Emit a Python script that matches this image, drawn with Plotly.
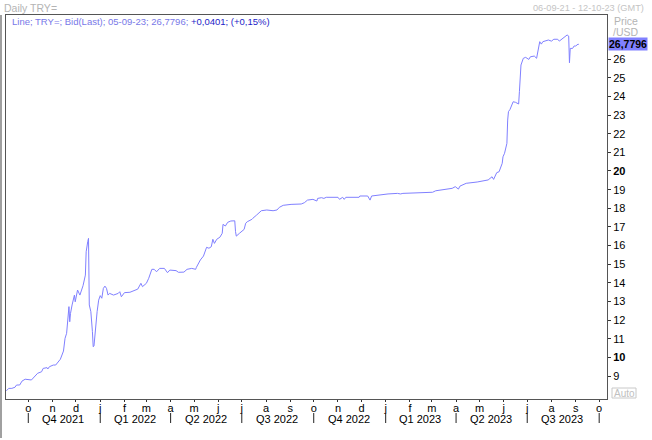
import plotly.graph_objects as go

# ---------------- data ----------------
dates = [
    "2021-09-03", "2021-09-06", "2021-09-10", "2021-09-14", "2021-09-16", "2021-09-20",
    "2021-09-23", "2021-09-27", "2021-10-05", "2021-10-07", "2021-10-11", "2021-10-13",
    "2021-10-18", "2021-10-20", "2021-10-25", "2021-10-26", "2021-10-28", "2021-11-02",
    "2021-11-05", "2021-11-08", "2021-11-11", "2021-11-15", "2021-11-17", "2021-11-19",
    "2021-11-22", "2021-11-23", "2021-11-24", "2021-11-26", "2021-11-29", "2021-11-30",
    "2021-12-02", "2021-12-03", "2021-12-06", "2021-12-08", "2021-12-10", "2021-12-13",
    "2021-12-14", "2021-12-16", "2021-12-17", "2021-12-18", "2021-12-20", "2021-12-22",
    "2021-12-23", "2021-12-24", "2021-12-26", "2021-12-28", "2021-12-30", "2022-01-01",
    "2022-01-03", "2022-01-05", "2022-01-07", "2022-01-09", "2022-01-11", "2022-01-13",
    "2022-01-18", "2022-01-24", "2022-01-26", "2022-01-28", "2022-02-01", "2022-02-08",
    "2022-02-18", "2022-02-22", "2022-02-24", "2022-03-01", "2022-03-04", "2022-03-08",
    "2022-03-11", "2022-03-14", "2022-03-18", "2022-03-24", "2022-03-28", "2022-03-31",
    "2022-04-08", "2022-04-11", "2022-04-18", "2022-04-22", "2022-04-28", "2022-05-03",
    "2022-05-04", "2022-05-09", "2022-05-13", "2022-05-17", "2022-05-20", "2022-05-23",
    "2022-05-25", "2022-05-27", "2022-05-30", "2022-06-03", "2022-06-06", "2022-06-07",
    "2022-06-10", "2022-06-13", "2022-06-17", "2022-06-22", "2022-06-23", "2022-06-24",
    "2022-06-28", "2022-07-04", "2022-07-06", "2022-07-08", "2022-07-14", "2022-07-15",
    "2022-07-20", "2022-07-26", "2022-08-02", "2022-08-10", "2022-08-15", "2022-08-18",
    "2022-08-23", "2022-09-02", "2022-09-15", "2022-09-19", "2022-09-23", "2022-09-30",
    "2022-10-05", "2022-10-06", "2022-10-11", "2022-10-14", "2022-10-17", "2022-11-01",
    "2022-11-03", "2022-11-07", "2022-11-09", "2022-11-11", "2022-11-28", "2022-11-29",
    "2022-12-09", "2022-12-12", "2022-12-14", "2022-12-23", "2023-01-04", "2023-01-16",
    "2023-01-20", "2023-01-23", "2023-02-10", "2023-03-02", "2023-03-06", "2023-03-16",
    "2023-03-27", "2023-03-31", "2023-04-04", "2023-04-06", "2023-04-14", "2023-04-28",
    "2023-05-12", "2023-05-17", "2023-05-19", "2023-05-23", "2023-05-26", "2023-05-30",
    "2023-05-31", "2023-06-02", "2023-06-05", "2023-06-06", "2023-06-07", "2023-06-09",
    "2023-06-12", "2023-06-13", "2023-06-16", "2023-06-20", "2023-06-21", "2023-06-22",
    "2023-06-23", "2023-06-26", "2023-06-29", "2023-07-03", "2023-07-05", "2023-07-10",
    "2023-07-13", "2023-07-14", "2023-07-17", "2023-07-19", "2023-07-21", "2023-07-28",
    "2023-08-01", "2023-08-04", "2023-08-09", "2023-08-11", "2023-08-14", "2023-08-18",
    "2023-08-21", "2023-08-23", "2023-08-24", "2023-08-25", "2023-08-28", "2023-08-30",
    "2023-09-01", "2023-09-04", "2023-09-05",
]
prices = [
    8.22, 8.35, 8.35, 8.41, 8.53, 8.53,
    8.74, 8.84, 8.80, 8.89, 9.03, 9.16,
    9.24, 9.42, 9.46, 9.39, 9.51, 9.60,
    9.60, 9.75, 9.91, 10.35, 11.03, 11.30,
    12.73, 11.92, 12.37, 12.82, 13.35, 12.99,
    13.53, 13.62, 13.35, 13.62, 13.85, 14.42,
    15.67, 16.21, 16.39, 12.82, 12.46, 11.39,
    10.58, 10.62, 11.65, 12.46, 13.08, 13.32,
    13.18, 13.71, 13.83, 13.71, 13.35, 13.44,
    13.35, 13.44, 13.53, 13.26, 13.48, 13.50,
    13.67, 13.98, 13.80, 13.98, 14.25, 14.73,
    14.73, 14.60, 14.78, 14.78, 14.55, 14.69,
    14.66, 14.57, 14.58, 14.73, 14.78, 14.73,
    14.84, 15.23, 15.44, 15.91, 15.86, 15.94,
    16.34, 16.12, 16.34, 16.45, 16.66, 17.14,
    17.05, 17.25, 17.32, 17.33, 16.75, 16.51,
    16.66, 16.87, 17.20, 17.28, 17.41, 17.46,
    17.64, 17.87, 17.91, 17.87, 17.91, 18.05,
    18.16, 18.21, 18.23, 18.30, 18.44, 18.48,
    18.39, 18.53, 18.57, 18.53, 18.59, 18.59,
    18.48, 18.59, 18.48, 18.59, 18.59, 18.66,
    18.66, 18.44, 18.66, 18.71, 18.77, 18.80,
    18.77, 18.80, 18.83, 18.86, 18.94, 19.00,
    19.07, 19.16, 19.03, 19.19, 19.34, 19.41,
    19.52, 19.69, 19.55, 19.91, 19.96, 20.41,
    20.76, 20.95, 21.48, 22.73, 23.18, 23.30,
    23.66, 23.71, 23.68, 23.59, 24.25, 25.05,
    25.68, 26.04, 26.09, 25.98, 26.12, 26.16,
    26.04, 26.27, 26.93, 26.80, 26.93, 27.02,
    26.96, 27.06, 27.06, 26.96, 27.06, 27.16,
    27.29, 27.23, 25.80, 26.57, 26.57, 26.70,
    26.70, 26.80, 26.7796,
]

month_ticks = [
    "2021-10-01", "2021-11-01", "2021-12-01", "2022-01-01", "2022-02-01", "2022-03-01",
    "2022-04-01", "2022-05-01", "2022-06-01", "2022-07-01", "2022-08-01", "2022-09-01",
    "2022-10-01", "2022-11-01", "2022-12-01", "2023-01-01", "2023-02-01", "2023-03-01",
    "2023-04-01", "2023-05-01", "2023-06-01", "2023-07-01", "2023-08-01", "2023-09-01",
    "2023-10-01",
]
month_labels = ["o", "n", "d", "j", "f", "m", "a", "m", "j", "j", "a", "s",
                "o", "n", "d", "j", "f", "m", "a", "m", "j", "j", "a", "s", "o"]

quarter_starts = ["2021-10-01", "2022-01-01", "2022-04-01", "2022-07-01", "2022-10-01",
                  "2023-01-01", "2023-04-01", "2023-07-01", "2023-10-01"]
quarter_mids = ["2021-11-15", "2022-02-14", "2022-05-16", "2022-08-15",
                "2022-11-15", "2023-02-14", "2023-05-16", "2023-08-15"]
quarter_labels = ["Q4 2021", "Q1 2022", "Q2 2022", "Q3 2022",
                  "Q4 2022", "Q1 2023", "Q2 2023", "Q3 2023"]

y_ticks = list(range(9, 27))
y_tick_text = [("<b>%d</b>" % v) if v in (10, 20) else str(v) for v in y_ticks]

last_value_text = "26,7796"
legend_main = "Line; TRY=; Bid(Last); 05-09-23; 26,7796; "
legend_change = "+0,0401; (+0,15%)"

# ---------------- figure ----------------
W, H = 652, 440
ML, MR, MT, MB = 6, 45, 15, 41
PW, PH = W - ML - MR, H - MT - MB
FONT = "Liberation Sans"
LINE_COL = "#8080ff"
AX_COL = "#555555"


def px(xp):
    return (xp - ML) / PW


def py(yp):
    return (H - MB - yp) / PH


fig = go.Figure()
fig.add_trace(go.Scatter(x=dates, y=prices, mode="lines",
                         line=dict(color=LINE_COL, width=1), hoverinfo="skip",
                         showlegend=False))

annotations = [
    dict(text="Daily TRY=", x=px(2), y=py(8), xref="paper", yref="paper",
         xanchor="left", yanchor="middle", showarrow=False,
         font=dict(family=FONT, size=10.5, color="#b4b4b4")),
    dict(text="06-09-21 - 12-10-23 (GMT)", x=px(646), y=py(8), xref="paper", yref="paper",
         xanchor="right", yanchor="middle", showarrow=False,
         font=dict(family=FONT, size=9.2, color="#c4c4c4")),
    dict(text="<span style='color:#7878e8'>%s</span><span style='color:#1c1cc8'>%s</span>"
              % (legend_main, legend_change),
         x=px(10), y=py(22), xref="paper", yref="paper",
         xanchor="left", yanchor="middle", showarrow=False,
         font=dict(family=FONT, size=9.5)),
    dict(text="Price", x=px(612), y=py(21), xref="paper", yref="paper",
         xanchor="left", yanchor="middle", showarrow=False,
         font=dict(family=FONT, size=10.5, color="#b4b4b4")),
    dict(text="/USD", x=px(611), y=py(32), xref="paper", yref="paper",
         xanchor="left", yanchor="middle", showarrow=False,
         font=dict(family=FONT, size=10.5, color="#b4b4b4")),
    dict(text="<b>" + last_value_text + "</b>", x=px(608), y=prices[-1], xref="paper", yref="y",
         xanchor="left", yanchor="middle", showarrow=False, bgcolor="#8080ff",
         borderpad=0, font=dict(family=FONT, size=10.5, color="#000000")),
    dict(text="Auto", x=px(624), y=py(393), xref="paper", yref="paper",
         xanchor="center", yanchor="middle", showarrow=False,
         font=dict(family=FONT, size=10, color="#c0c0c0")),
]
for qm, ql in zip(quarter_mids, quarter_labels):
    annotations.append(dict(text=ql, x=qm, y=py(419), xref="x", yref="paper",
                            xanchor="center", yanchor="middle", showarrow=False,
                            font=dict(family=FONT, size=11, color="#000000")))

shapes = [
    dict(type="rect", xref="paper", yref="paper", x0=px(612), x1=px(636),
         y0=py(398), y1=py(388), line=dict(color="#c8c8c8", width=1)),
    dict(type="line", xref="paper", yref="paper", x0=px(1), x1=px(1),
         y0=py(15), y1=py(438), line=dict(color="#a0a0a0", width=2)),
]
for qs in quarter_starts:
    shapes.append(dict(type="line", xref="x", yref="paper", x0=qs, x1=qs,
                       y0=py(413), y1=py(423), line=dict(color="#222222", width=1)))

fig.update_layout(
    width=W, height=H,
    margin=dict(l=ML, r=MR, t=MT, b=MB, pad=0),
    paper_bgcolor="white", plot_bgcolor="white",
    font=dict(family=FONT, size=11, color="#000000"),
    annotations=annotations, shapes=shapes,
    showlegend=False,
)
fig.update_xaxes(
    type="date", range=["2021-09-02 12:00", "2023-10-11"],
    tickmode="array", tickvals=month_ticks, ticktext=month_labels,
    ticks="outside", ticklen=2, tickcolor="#333333", tickwidth=1,
    ticklabelstandoff=-3,
    showgrid=False, zeroline=False,
    showline=True, linecolor=AX_COL, linewidth=1, mirror=True,
    tickfont=dict(family=FONT, size=11, color="#000000"),
)
fig.update_yaxes(
    side="right", range=[7.78, 28.36],
    tickmode="array", tickvals=y_ticks, ticktext=y_tick_text,
    ticks="outside", ticklen=3, tickcolor="#333333", tickwidth=1,
    showgrid=False, zeroline=False,
    showline=True, linecolor=AX_COL, linewidth=1, mirror=True,
    tickfont=dict(family=FONT, size=11, color="#000000"),
)

fig.write_html("out.html", config={"displayModeBar": False},
               post_script="document.body.style.margin='0';document.body.style.overflow='hidden';")
